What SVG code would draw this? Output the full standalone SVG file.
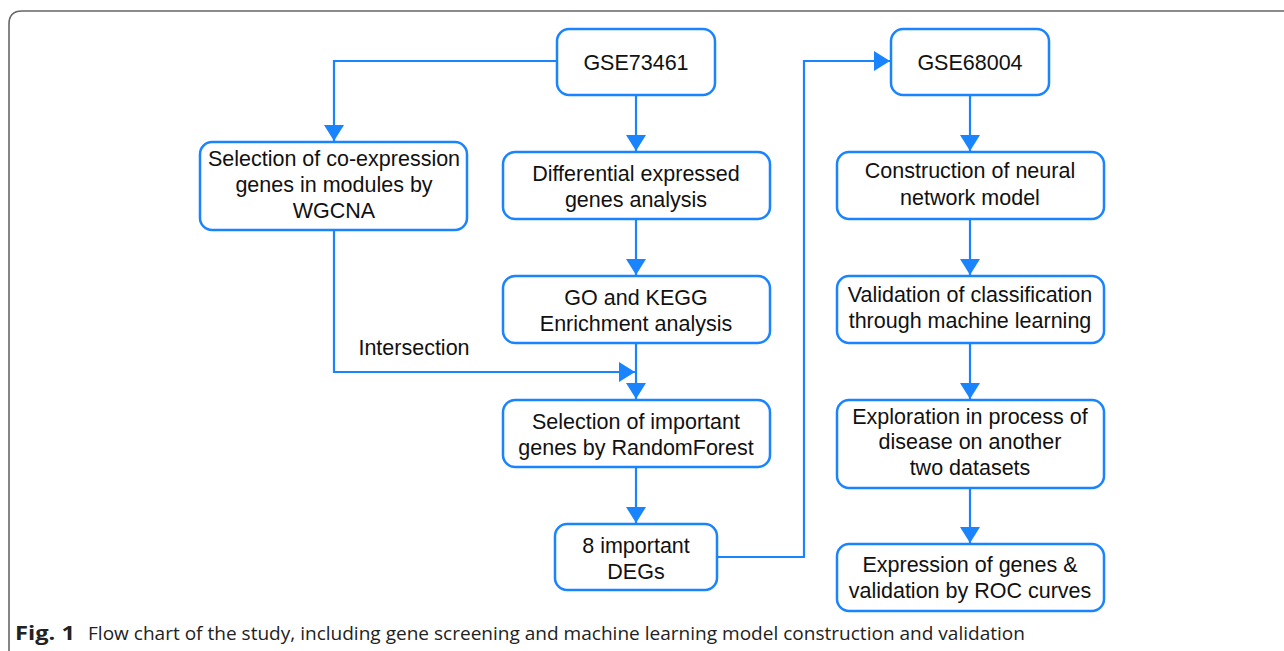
<svg xmlns="http://www.w3.org/2000/svg" width="1284" height="651" viewBox="0 0 1284 651">
<style>
.box{fill:#fff;stroke:#1a84ff;stroke-width:2.5}
.t{font-family:"Liberation Sans",Arial,sans-serif;font-size:21.5px;fill:#111;text-anchor:middle}
.c{fill:none;stroke:#1a84ff;stroke-width:2.2}
.cap{font-family:"Open Sans","Noto Sans",sans-serif;font-size:19px;fill:#222}
</style>
<defs>
<marker id="ah" viewBox="0 0 16 20" refX="16" refY="10" markerWidth="16" markerHeight="20" markerUnits="userSpaceOnUse" orient="auto">
<path d="M0,0 L16,10 L0,20 Z" fill="#1a84ff"/>
</marker>
</defs>
<rect width="1284" height="651" fill="#fff"/>
<path d="M1290,11 H22 Q9,11 9,24 V660" fill="none" stroke="#666" stroke-width="1.6"/>

<g id="connectors">
<path class="c" d="M557,61 H334 V141" marker-end="url(#ah)"/>
<path class="c" d="M636,95 V151" marker-end="url(#ah)"/>
<path class="c" d="M636,219 V275" marker-end="url(#ah)"/>
<path class="c" d="M636,343 V399" marker-end="url(#ah)"/>
<path class="c" d="M334,230 V372 H635" marker-end="url(#ah)"/>
<path class="c" d="M636,467 V523" marker-end="url(#ah)"/>
<path class="c" d="M717,557 H804 V61 H890" marker-end="url(#ah)"/>
<path class="c" d="M970,95 V151" marker-end="url(#ah)"/>
<path class="c" d="M970,219 V275" marker-end="url(#ah)"/>
<path class="c" d="M970,343 V399" marker-end="url(#ah)"/>
<path class="c" d="M970,488 V543" marker-end="url(#ah)"/>
<text class="t" x="414" y="355">Intersection</text>
</g>

<g id="n_gse73461">
<rect class="box" x="557" y="29" width="158" height="66" rx="12"/>
<text class="t" x="636" y="70">GSE73461</text>
</g>
<g id="n_wgcna">
<rect class="box" x="200" y="142" width="267" height="88" rx="12"/>
<text class="t" x="334" y="166">Selection of co-expression</text>
<text class="t" x="334" y="192">genes in modules by</text>
<text class="t" x="334" y="218">WGCNA</text>
</g>
<g id="n_deg">
<rect class="box" x="503" y="152" width="267" height="67" rx="12"/>
<text class="t" x="636" y="181">Differential expressed</text>
<text class="t" x="636" y="207">genes analysis</text>
</g>
<g id="n_go">
<rect class="box" x="503" y="276" width="267" height="67" rx="12"/>
<text class="t" x="636" y="305">GO and KEGG</text>
<text class="t" x="636" y="331">Enrichment analysis</text>
</g>
<g id="n_rf">
<rect class="box" x="503" y="400" width="267" height="67" rx="12"/>
<text class="t" x="636" y="429">Selection of important</text>
<text class="t" x="636" y="455">genes by RandomForest</text>
</g>
<g id="n_8deg">
<rect class="box" x="555" y="524" width="162" height="66" rx="12"/>
<text class="t" x="636" y="553">8 important</text>
<text class="t" x="636" y="579">DEGs</text>
</g>
<g id="n_gse68004">
<rect class="box" x="891" y="29" width="158" height="66" rx="12"/>
<text class="t" x="970" y="70">GSE68004</text>
</g>
<g id="n_nn">
<rect class="box" x="837" y="152" width="267" height="67" rx="12"/>
<text class="t" x="970" y="178">Construction of neural</text>
<text class="t" x="970" y="205">network model</text>
</g>
<g id="n_val">
<rect class="box" x="837" y="276" width="267" height="67" rx="12"/>
<text class="t" x="970" y="302">Validation of classification</text>
<text class="t" x="970" y="328">through machine learning</text>
</g>
<g id="n_exp">
<rect class="box" x="837" y="400" width="267" height="88" rx="12"/>
<text class="t" x="970" y="424">Exploration in process of</text>
<text class="t" x="970" y="449">disease on another</text>
<text class="t" x="970" y="475">two datasets</text>
</g>
<g id="n_roc">
<rect class="box" x="837" y="544" width="267" height="67" rx="12"/>
<text class="t" x="970" y="572">Expression of genes &amp;</text>
<text class="t" x="970" y="598">validation by ROC curves</text>
</g>

<text class="cap" x="15" y="640" font-weight="bold" textLength="60" lengthAdjust="spacingAndGlyphs">Fig. 1</text>
<text class="cap" x="88" y="640" textLength="937" lengthAdjust="spacingAndGlyphs">Flow chart of the study, including gene screening and machine learning model construction and validation</text>
</svg>
